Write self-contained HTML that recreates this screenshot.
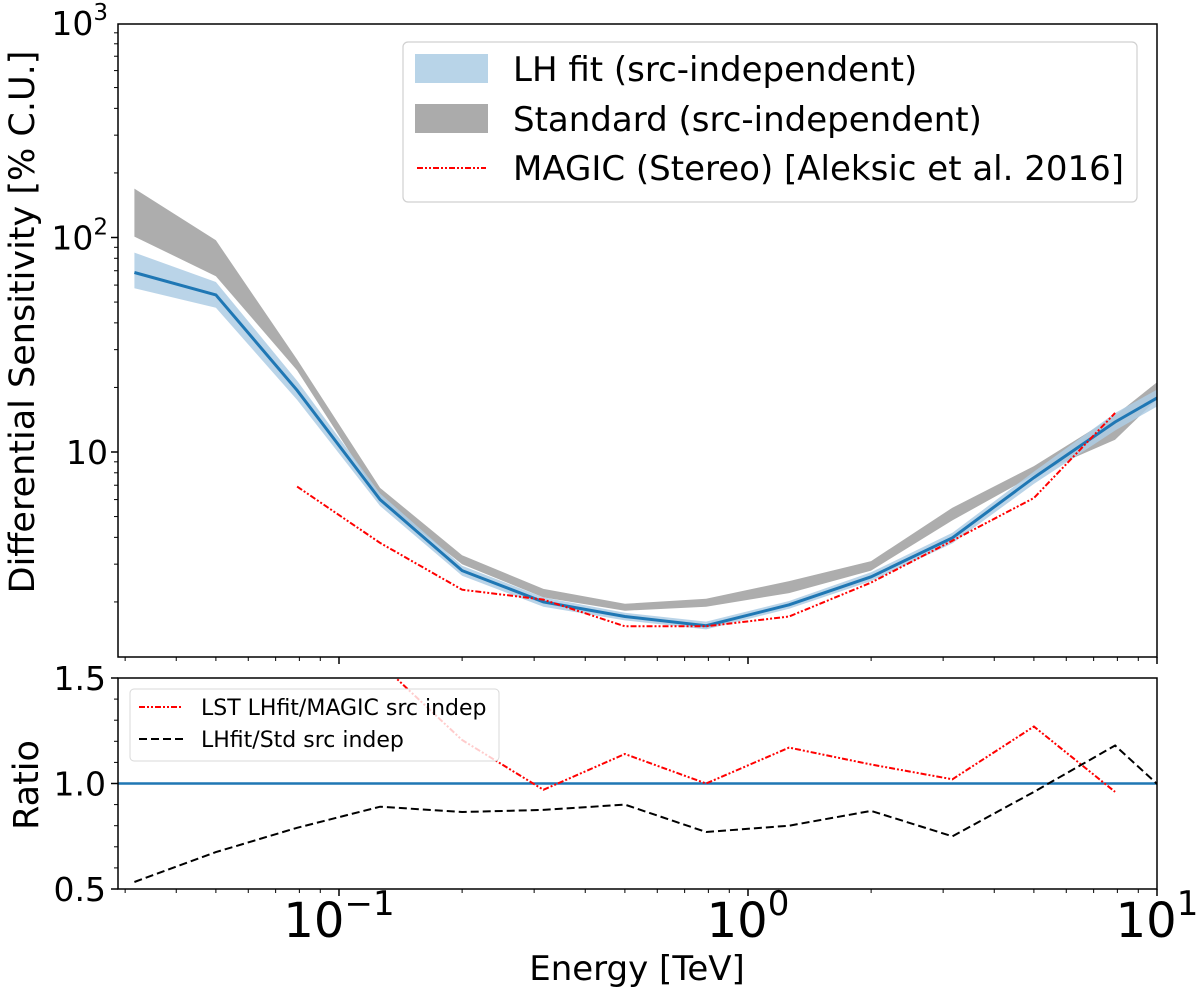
<!DOCTYPE html>
<html><head><meta charset="utf-8"><style>
html,body{margin:0;padding:0;background:#fff;}
svg{display:block;font-family:"DejaVu Sans","Liberation Sans",sans-serif;}
</style></head><body>
<svg id="chart" width="1200" height="994" viewBox="0 0 1200 994">
<defs>
<clipPath id="topClip"><rect x="118" y="24" width="1039" height="633"/></clipPath>
<clipPath id="botClip"><rect x="118" y="678" width="1039" height="211"/></clipPath>
</defs>
<g id="topPanel"></g>
<g id="botPanel"></g>
</svg>
<script>
const energies = [0.0316,0.05,0.079,0.126,0.2,0.316,0.5,0.79,1.26,2,3.16,5,7.9,12.6];
const lhFit = [68.7,54,19.4,6.0,2.8,2.0,1.71,1.55,1.94,2.62,3.98,7.6,13.8,23];
const lhLow = [58,47,17.5,5.6,2.65,1.9,1.64,1.49,1.86,2.5,3.75,7.1,12.6,21];
const lhHigh = [85,62,21.5,6.4,2.95,2.1,1.78,1.62,2.02,2.75,4.2,8.1,15.2,25];
const stdLow = [101,66,24,6.0,3.0,2.1,1.82,1.9,2.2,2.8,4.8,7.8,11.4,27];
const stdHigh = [169,97,27,6.8,3.3,2.3,1.96,2.07,2.5,3.1,5.5,8.6,14.8,30];
const magicE = [0.079,0.126,0.2,0.316,0.5,0.79,1.26,2,3.16,5,7.9];
const magic = [6.9,3.77,2.28,2.05,1.54,1.54,1.71,2.46,3.86,6.1,15.2];
const ratioMagic = [2.8,1.57,1.206,0.97,1.14,1.0,1.17,1.09,1.02,1.27,0.96];
const ratioStd = [0.533,0.675,0.79,0.89,0.865,0.875,0.90,0.77,0.80,0.87,0.75,0.96,1.18,0.82];
const xTickLabels = ["−1","0","1"];
const yTopTickLabels = ["1","2","3"];
const yBotTicks = [0.5,1.0,1.5];

const NS="http://www.w3.org/2000/svg";
const L=118,R=1157,TT=24,TB=657,BT=678,BB=889;
const xOf=e=>339+(Math.log10(e)+1)*409;
const yTop=v=>452-(Math.log10(v)-1)*214.5;
const yBot=v=>BB-(v-0.5)*211;
function mk(tag,attrs,parent){const el=document.createElementNS(NS,tag);for(const k in attrs)el.setAttribute(k,attrs[k]);parent.appendChild(el);return el;}
const topG=document.getElementById('topPanel'),botG=document.getElementById('botPanel');
const pts=(xs,ys,f)=>xs.map((e,i)=>xOf(e).toFixed(1)+','+f(ys[i]).toFixed(1)).join(' ');

const gTop=mk('g',{'clip-path':'url(#topClip)'},topG);
let band=mk('polygon',{points:pts(energies,stdHigh,yTop)+' '+pts(energies.slice().reverse(),stdLow.slice().reverse(),yTop),fill:'#a9a9a9',opacity:'0.95'},gTop);


band=mk('polygon',{points:pts(energies,lhHigh,yTop)+' '+pts(energies.slice().reverse(),lhLow.slice().reverse(),yTop),fill:'#aecde4',opacity:'0.85'},gTop);


let ln=mk('polyline',{points:pts(energies,lhFit,yTop),fill:'none',stroke:'#1f77b4','stroke-width':3},gTop);


ln=mk('polyline',{points:pts(magicE,magic,yTop),fill:'none',stroke:'#ff0000','stroke-width':2,'stroke-dasharray':'6,2,2,2,2,2'},gTop);



const gBot=mk('g',{'clip-path':'url(#botClip)'},botG);
ln=mk('line',{x1:L,x2:R,y1:yBot(1),y2:yBot(1),stroke:'#1f77b4','stroke-width':2.5},gBot);


ln=mk('polyline',{points:pts(magicE,ratioMagic,yBot),fill:'none',stroke:'#ff0000','stroke-width':2,'stroke-dasharray':'6,2,2,2,2,2'},gBot);


ln=mk('polyline',{points:pts(energies,ratioStd,yBot),fill:'none',stroke:'#000','stroke-width':2,'stroke-dasharray':'8,4'},gBot);



let fr=mk('rect',{x:L,y:TT,width:R-L,height:TB-TT,fill:'none',stroke:'#000','stroke-width':1.5},topG);


fr=mk('rect',{x:L,y:BT,width:R-L,height:BB-BT,fill:'none',stroke:'#000','stroke-width':1.5},botG);



[[topG,TB],[botG,BB]].forEach(([g,yb])=>{
  for(let d=-2;d<=1;d++){for(let m=1;m<10;m++){const e=m*Math.pow(10,d);const x=xOf(e);if(x<L-0.5||x>R+0.5)continue;
    mk('line',{x1:x,x2:x,y1:yb,y2:yb+(m===1?7:4),stroke:'#000','stroke-width':m===1?1.5:1},g);}}
});
xTickLabels.forEach((lab,i)=>{const x=xOf(Math.pow(10,i-1));
  const t=mk('text',{x:x,y:937,'font-size':48,'text-anchor':'middle'},botG);
  
  
  t.innerHTML='10<tspan dy="-22" font-size="34">'+lab+'</tspan>';});

for(let d=0;d<=3;d++){for(let m=1;m<10;m++){const v=m*Math.pow(10,d);const y=yTop(v);if(y<TT-0.5||y>TB+0.5)continue;
  mk('line',{x1:L,x2:L-(m===1?7:4),y1:y,y2:y,stroke:'#000','stroke-width':m===1?1.5:1},topG);}}
yTopTickLabels.forEach(lab=>{const v=Math.pow(10,+lab);const y=yTop(v);
  const t=mk('text',{x:108,y:y+12,'font-size':33,'text-anchor':'end'},topG);
  
  
  t.innerHTML=lab==='1'?'10':'10<tspan dy="-15" font-size="23">'+lab+'</tspan>';});

for(let k=0;k<=10;k++){const v=0.5+k*0.1;const y=yBot(v);const maj=(k%5===0);
  mk('line',{x1:L,x2:L-(maj?7:4),y1:y,y2:y,stroke:'#000','stroke-width':maj?1.5:1},botG);}
yBotTicks.forEach(v=>{const t=mk('text',{x:106,y:yBot(v)+12,'font-size':33,'text-anchor':'end'},botG);
  
  
  t.textContent=v.toFixed(1);});
</script>
<svg style="position:absolute;left:0;top:0" width="1200" height="994">
<text x="34" y="322" font-size="35" text-anchor="middle" transform="rotate(-90 34 322)" font-family="DejaVu Sans,sans-serif">Differential Sensitivity [% C.U.]</text>
<text x="38" y="785" font-size="35" text-anchor="middle" transform="rotate(-90 38 785)" font-family="DejaVu Sans,sans-serif">Ratio</text>
<text x="637" y="980" font-size="34" text-anchor="middle" font-family="DejaVu Sans,sans-serif">Energy [TeV]</text>
<g font-family="DejaVu Sans,sans-serif">
<rect x="403" y="42" width="734" height="160" rx="5" fill="#fff" fill-opacity="0.8" stroke="#d0d0d0" stroke-width="1.2"/>
<rect x="415" y="54" width="73" height="29" fill="#b8d4e8"/>
<text x="513" y="81" font-size="34">LH fit (src-independent)</text>
<rect x="415" y="104" width="73" height="29" fill="#ababab"/>
<text x="513" y="131" font-size="34">Standard (src-independent)</text>
<line x1="417" x2="486" y1="168" y2="168" stroke="#f00" stroke-width="2" stroke-dasharray="6,2,2,2,2,2"/>
<text x="513" y="180" font-size="34">MAGIC (Stereo) [Aleksic et al. 2016]</text>
</g>
<g font-family="DejaVu Sans,sans-serif">
<rect x="130" y="689" width="369" height="72" rx="4" fill="#fff" fill-opacity="0.8" stroke="#d8d8d8" stroke-width="1"/>
<line x1="139" x2="183" y1="707" y2="707" stroke="#f00" stroke-width="2" stroke-dasharray="6,2,2,2,2,2"/>
<text x="201" y="715" font-size="22">LST LHfit/MAGIC src indep</text>
<line x1="139" x2="183" y1="739" y2="739" stroke="#000" stroke-width="2" stroke-dasharray="8,4"/>
<text x="201" y="747" font-size="22">LHfit/Std src indep</text>
</g>
</svg>
</body></html>
